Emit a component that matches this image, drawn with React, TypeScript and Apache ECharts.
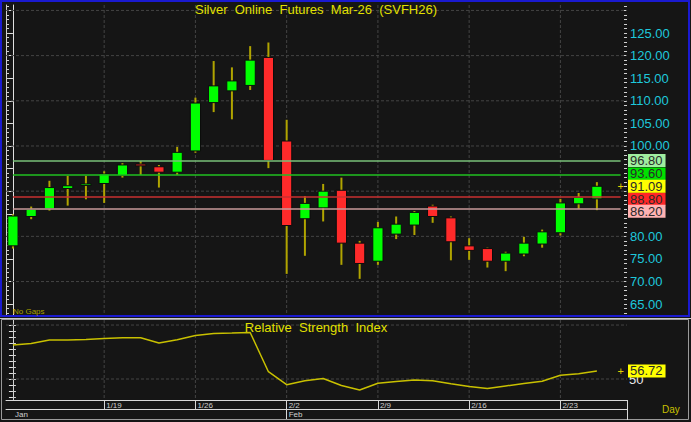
import React, { useEffect, useRef } from 'react';
import * as echarts from 'echarts';

const dates = ['1/12','1/13','1/14','1/15','1/16','1/19','1/20','1/21','1/22','1/23','1/26','1/27','1/28','1/29','1/30','2/2','2/3','2/4','2/5','2/6','2/9','2/10','2/11','2/12','2/13','2/16','2/17','2/18','2/19','2/20','2/23','2/24','2/25'];
const opens = [77.9,84.4,86.1,90.6,91.4,91.7,93.5,96.0,95.4,94.2,98.9,109.6,112.2,113.4,119.6,101.1,83.9,86.3,90.2,78.5,74.5,80.5,82.5,86.7,84.1,77.9,77.3,74.5,76.1,78.3,80.8,87.2,88.3];
const closes = [84.5,86.0,90.8,91.2,91.6,93.8,95.8,95.6,94.2,98.6,109.5,113.3,114.4,119.0,96.8,82.4,87.3,90.0,78.5,74.0,81.9,82.7,85.3,84.4,78.8,76.9,74.5,76.3,78.5,81.0,87.4,88.6,91.09];
const highs = [84.9,86.6,92.3,93.4,93.4,94.4,96.2,96.7,95.8,99.8,110.7,118.8,117.4,122.1,122.9,105.8,88.9,91.6,93.0,79.0,83.2,84.4,85.6,87.0,84.4,79.6,77.5,76.6,79.9,81.5,88.3,89.6,92.0];
const lows = [77.3,83.8,85.7,86.8,88.2,87.4,93.0,93.6,90.8,93.6,98.5,107.5,105.9,112.4,95.1,71.7,75.7,83.3,73.7,70.6,73.7,79.4,80.3,83.0,74.7,74.8,73.1,72.3,75.6,77.5,80.2,86.1,85.8];
const rsi = [78.3,79.6,82.5,82.5,82.9,83.8,84.4,84.4,80.0,82.8,86.3,87.9,88.3,88.8,56.1,45.3,48.5,50.4,44.6,40.8,46.4,47.9,49.2,48.6,46.0,43.8,42.1,44.2,46.3,48.2,53.1,54.4,56.72];

const levelValues = [96.8, 93.6, 88.8, 86.2];
const levelTexts = ['96.80', '93.60', '88.80', '86.20'];
const lastPrice = 91.09;
const lastPriceText = '91.09';
const lastRsi = 56.72;
const lastRsiText = '56.72';
const priceLabelValues = [65, 70, 75, 80, 100, 105, 110, 115, 120, 125];
const priceMajorTicks = [65, 70, 75, 80, 85, 90, 95, 100, 105, 110, 115, 120, 125, 130];
const priceMinorTicks = Array.from({ length: 69 }, (_, k) => 63 + k);
const priceGridValues = [70, 80, 90, 100, 110, 120, 130];
const rsiTickValues = [35, 40, 45, 50, 55, 60, 65, 70, 75, 80, 85, 90, 95];
const rsiLabelValues = [50];
const rsiGridValues = [50, 95];
const weekStarts = [5, 10, 15, 20, 25, 30];
const monthStarts = [0, 15];
const monthNames = ['Jan', 'Feb'];

// styles
const levelLineColors = ['#78c078', '#20c020', '#c83030', '#c89a9a'];
const levelBgColors = ['#a0eea0', '#00e000', '#ff2626', '#ffb2b2'];
const levelLabelShift = [0, -1, 2.5, 3];

const FONT = '"Liberation Sans", Arial, sans-serif';
const X_MIN = -0.38;
const X_MAX = 33.65;
const PRICE_MIN = 62.6;
const PRICE_MAX = 131.2;
const RSI_MIN = 32.5;
const RSI_MAX = 99.2;

export default function App() {
  const ref = useRef<HTMLDivElement>(null);
  useEffect(() => {
    document.body.style.margin = '0';
    const chart = echarts.init(ref.current!, null, { renderer: 'svg' });

    const gridLine = (vertical: boolean) => (params: any, api: any) => {
      const cs = params.coordSys;
      const p = api.coord([api.value(0), api.value(1)]);
      const shape = vertical
        ? { x1: p[0], y1: cs.y, x2: p[0], y2: cs.y + cs.height }
        : { x1: cs.x, y1: p[1], x2: cs.x + cs.width, y2: p[1] };
      return { type: 'line', shape, style: { stroke: '#444444', lineWidth: 1, lineDash: [3, 2] } };
    };

    const tagPoint = (y: number, text: string, bg: string, shift: number) => ({
      coord: [X_MAX, y],
      symbol: 'circle',
      symbolSize: 0,
      label: {
        show: true,
        formatter: text,
        position: 'right',
        distance: 1,
        offset: [0, shift],
        color: '#2a2a2a',
        backgroundColor: bg,
        fontSize: 13,
        fontFamily: FONT,
        lineHeight: 13,
        padding: [0, 3, 0, 2],
      },
    });

    const plusPoint = (y: number) => ({
      coord: [33.3, y],
      symbol: 'circle',
      symbolSize: 0,
      label: { show: true, formatter: '+', position: 'inside', color: '#e0d000', fontSize: 11, fontFamily: FONT },
    });

    const levelLines: any[] = levelValues.map((v, k) => [
      { coord: [0, v], lineStyle: { color: levelLineColors[k], width: 1.5, type: 'solid' } },
      { coord: [33.3, v] },
    ]);

    const levelTags: any[] = levelValues.map((v, k) => tagPoint(v, levelTexts[k], levelBgColors[k], levelLabelShift[k]));
    levelTags.push(tagPoint(lastPrice, lastPriceText, '#ffff00', 0));
    levelTags.push(plusPoint(lastPrice));

    const xBase = { type: 'value', min: X_MIN, max: X_MAX };

    chart.setOption({
      animation: false,
      backgroundColor: '#151515',
      title: [
        {
          text: 'Silver  Online  Futures  Mar-26  (SVFH26)',
          left: 316,
          top: 3,
          textAlign: 'center',
          padding: 0,
          textStyle: { color: '#e2e000', fontSize: 13, fontWeight: 'normal', fontFamily: FONT },
        },
        {
          text: 'Relative  Strength  Index',
          left: 316,
          top: 321,
          textAlign: 'center',
          padding: 0,
          textStyle: { color: '#e2e000', fontSize: 13, fontWeight: 'normal', fontFamily: FONT },
        },
      ],
      grid: [
        { left: 6, right: 64, top: 5, height: 310 },
        { left: 6, right: 64, top: 320, height: 80 },
      ],
      xAxis: [
        { ...xBase, gridIndex: 0, show: false },
        {
          ...xBase,
          gridIndex: 1,
          position: 'bottom',
          axisLine: { show: true, lineStyle: { color: '#d8d8d8', width: 1 } },
          axisTick: { show: true, customValues: weekStarts, length: 9, lineStyle: { color: '#d8d8d8' } },
          axisLabel: {
            show: true,
            customValues: weekStarts,
            formatter: (v: number) => dates[Math.round(v)],
            color: '#d0d0d0',
            fontSize: 8,
            fontFamily: FONT,
            align: 'left',
            margin: 1,
            padding: [0, 0, 0, 2],
          },
          splitLine: { show: false },
        },
        {
          ...xBase,
          gridIndex: 1,
          position: 'bottom',
          offset: 9,
          axisLine: { show: true, lineStyle: { color: '#d8d8d8', width: 1 } },
          axisTick: { show: true, customValues: [monthStarts[1]], length: 10, lineStyle: { color: '#d8d8d8' } },
          axisLabel: {
            show: true,
            customValues: monthStarts,
            formatter: (v: number) => monthNames[monthStarts.indexOf(Math.round(v))],
            color: '#d0d0d0',
            fontSize: 8,
            fontFamily: FONT,
            align: 'left',
            margin: 1,
            padding: [0, 0, 0, 2],
          },
          splitLine: { show: false },
        },
      ],
      yAxis: [
        {
          type: 'value', gridIndex: 0, position: 'right', min: PRICE_MIN, max: PRICE_MAX,
          axisLine: { show: true, lineStyle: { color: '#e0e0e0', width: 1 } },
          axisTick: { show: true, inside: true, length: 5, customValues: priceMajorTicks, lineStyle: { color: '#e0e0e0' } },
          axisLabel: {
            show: true, customValues: priceLabelValues, formatter: (v: number) => v.toFixed(2),
            color: '#1ec8dc', fontSize: 13, fontFamily: FONT, margin: 3,
          },
          splitLine: { show: false },
        },
        {
          type: 'value', gridIndex: 0, position: 'right', min: PRICE_MIN, max: PRICE_MAX,
          axisLine: { show: false },
          axisTick: { show: true, inside: true, length: 3, customValues: priceMinorTicks, lineStyle: { color: '#d0d0d0' } },
          axisLabel: { show: false },
          splitLine: { show: false },
        },
        {
          type: 'value', gridIndex: 0, position: 'left', min: PRICE_MIN, max: PRICE_MAX,
          axisLine: { show: true, lineStyle: { color: '#d0d0d0', width: 1 } },
          axisTick: { show: true, inside: true, length: 3, customValues: priceMinorTicks, lineStyle: { color: '#d0d0d0' } },
          axisLabel: { show: false },
          splitLine: { show: false },
        },
        {
          type: 'value', gridIndex: 1, position: 'right', min: RSI_MIN, max: RSI_MAX,
          axisLine: { show: true, lineStyle: { color: '#e0e0e0', width: 1 } },
          axisTick: { show: true, inside: true, length: 4, customValues: rsiTickValues, lineStyle: { color: '#e0e0e0' } },
          axisLabel: {
            show: true, customValues: rsiLabelValues, color: '#e8e8e8', fontSize: 13, fontFamily: FONT, margin: 2,
          },
          splitLine: { show: false },
        },
        {
          type: 'value', gridIndex: 1, position: 'left', min: RSI_MIN, max: RSI_MAX,
          axisLine: { show: true, lineStyle: { color: '#d0d0d0', width: 1 } },
          axisTick: { show: true, inside: true, length: 3, customValues: rsiTickValues, lineStyle: { color: '#d0d0d0' } },
          axisLabel: { show: false },
          splitLine: { show: false },
        },
      ],
      series: [
        {
          type: 'custom', name: 'hgrid', xAxisIndex: 0, yAxisIndex: 0, z: 1, silent: true,
          data: priceGridValues.map((v) => [0, v]), encode: { x: 0, y: 1 },
          renderItem: gridLine(false),
        },
        {
          type: 'custom', name: 'vgrid', xAxisIndex: 0, yAxisIndex: 0, z: 1, silent: true,
          data: weekStarts.map((i) => [i, 100]), encode: { x: 0, y: 1 },
          renderItem: gridLine(true),
        },
        {
          type: 'custom', name: 'rsigridh', xAxisIndex: 1, yAxisIndex: 3, z: 1, silent: true,
          data: rsiGridValues.map((v) => [0, v]), encode: { x: 0, y: 1 },
          renderItem: gridLine(false),
        },
        {
          type: 'custom', name: 'rsigridv', xAxisIndex: 1, yAxisIndex: 3, z: 1, silent: true,
          data: weekStarts.map((i) => [i, 50]), encode: { x: 0, y: 1 },
          renderItem: gridLine(true),
        },
        {
          type: 'custom', name: 'candles', xAxisIndex: 0, yAxisIndex: 0, z: 3, silent: true,
          data: dates.map((_, i) => [i, opens[i], closes[i], lows[i], highs[i]]),
          encode: { x: 0, y: [1, 2, 3, 4] },
          renderItem: (params: any, api: any) => {
            const i = api.value(0);
            const o = api.value(1);
            const c = api.value(2);
            const l = api.value(3);
            const h = api.value(4);
            const pO = api.coord([i, o]);
            const pC = api.coord([i, c]);
            const pL = api.coord([i, l]);
            const pH = api.coord([i, h]);
            const w = api.size([1, 0])[0] * 0.56;
            const x = pO[0];
            const top = Math.min(pO[1], pC[1]);
            const hh = Math.max(Math.abs(pO[1] - pC[1]), 1.5);
            const up = c >= o;
            return {
              type: 'group',
              children: [
                { type: 'line', shape: { x1: x, y1: pH[1], x2: x, y2: pL[1] }, style: { stroke: '#b0a400', lineWidth: 2 } },
                {
                  type: 'rect',
                  shape: { x: x - w / 2, y: top, width: w, height: hh },
                  style: { fill: up ? '#00ff00' : '#ff2a2a', stroke: '#0c0c0c', lineWidth: 1 },
                },
              ],
            };
          },
        },
        {
          type: 'line', name: 'levels', xAxisIndex: 0, yAxisIndex: 0, z: 4, silent: true,
          data: closes.map((c, i) => [i, c]), symbol: 'none', lineStyle: { color: 'rgba(0,0,0,0)', width: 0 },
          markLine: { silent: true, symbol: ['none', 'none'], animation: false, label: { show: false }, data: levelLines },
          markPoint: { silent: true, animation: false, data: levelTags },
        },
        {
          type: 'line', name: 'RSI', xAxisIndex: 1, yAxisIndex: 3, z: 4, silent: true,
          data: rsi.map((v, i) => [i, v]), symbol: 'none',
          lineStyle: { color: '#c8c000', width: 1.5 },
          markPoint: {
            silent: true, animation: false,
            data: [tagPoint(lastRsi, lastRsiText, '#ffff00', 0), plusPoint(lastRsi)],
          },
        },
      ],
      graphic: [
        { type: 'rect', z: 100, silent: true, shape: { x: 1, y: 1, width: 688, height: 315 }, style: { fill: 'none', stroke: '#1a1ad0', lineWidth: 2 } },
        { type: 'line', z: 100, silent: true, shape: { x1: 0, y1: 318.5, x2: 691, y2: 318.5 }, style: { stroke: '#c8c8c8', lineWidth: 1 } },
        { type: 'rect', z: 100, silent: true, shape: { x: 1.5, y: 319.5, width: 687, height: 100 }, style: { fill: 'none', stroke: '#9a9a9a', lineWidth: 1 } },
        { type: 'line', z: 100, silent: true, shape: { x1: 627.5, y1: 400, x2: 627.5, y2: 420 }, style: { stroke: '#d8d8d8', lineWidth: 1 } },
        { type: 'text', z: 100, silent: true, x: 13, y: 307, style: { text: 'No Gaps', fill: '#a8a000', fontSize: 8, fontFamily: FONT } },
        { type: 'text', z: 100, silent: true, x: 662, y: 404, style: { text: 'Day', fill: '#c8c000', fontSize: 10, fontFamily: FONT } },
      ],
    });
    return () => chart.dispose();
  }, []);
  return <div ref={ref} style={{ width: 691, height: 422 }} />;
}
